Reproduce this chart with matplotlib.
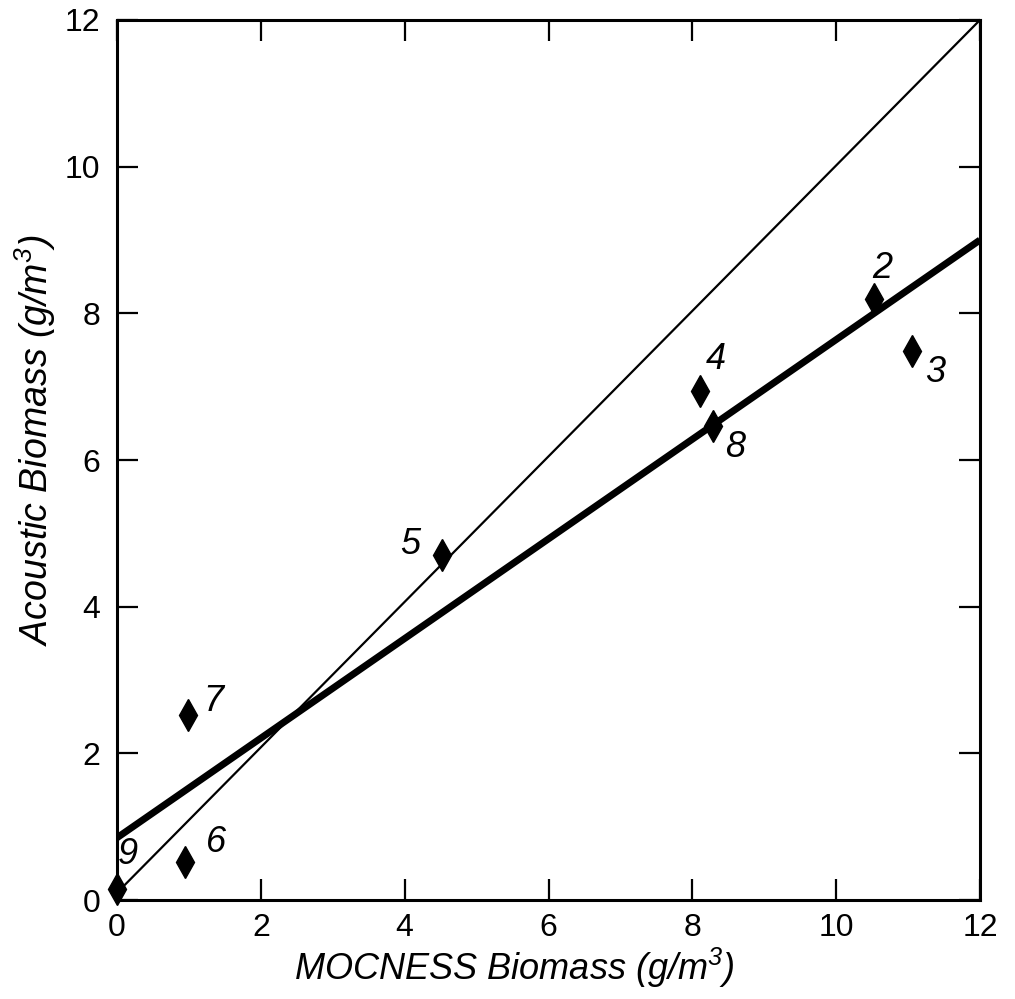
import matplotlib
matplotlib.use("Agg")
import matplotlib.pyplot as plt

plt.rcParams["font.family"] = ["Liberation Sans", "DejaVu Sans"]
plt.rcParams["mathtext.fontset"] = "custom"
plt.rcParams["mathtext.rm"] = "Liberation Sans:italic"
plt.rcParams["mathtext.it"] = "Liberation Sans:italic"

# station samples: MOCNESS vs acoustic biomass (g/m^3)
station_ids = ["2", "3", "4", "5", "6", "7", "8", "9"]
mocness = [10.52, 11.05, 8.1, 4.52, 0.95, 0.99, 8.29, 0.0]
acoustic = [8.2, 7.48, 6.94, 4.7, 0.52, 2.52, 6.47, 0.15]
# label offsets in points, relative to each marker
label_dx = [6, 17, 12, -23, 22, 18, 16, 8]
label_dy = [22, -15, 23, 8, 14, 10, -16, 25]

# 1:1 reference line and regression line (endpoints at x = 0 and x = 12)
line_x = [0, 12]
one_to_one_y = [0.1, 12.0]
regression_y = [0.85, 9.0]

axis_ticks = [0, 2, 4, 6, 8, 10, 12]

fig = plt.figure(figsize=(10.15, 9.99), dpi=100)
ax = fig.add_axes([0.1153, 0.099, 0.8502, 0.881])

ax.plot(line_x, one_to_one_y, color="black", linewidth=1.6, solid_capstyle="butt")
ax.plot(line_x, regression_y, color="black", linewidth=5.0, solid_capstyle="butt")
ax.plot(mocness, acoustic, linestyle="none", marker="d", markersize=16,
        markerfacecolor="black", markeredgecolor="black", markeredgewidth=1,
        clip_on=False, zorder=5)

for sid, x, y, dx, dy in zip(station_ids, mocness, acoustic, label_dx, label_dy):
    ax.annotate(sid, (x, y), xytext=(dx, dy), textcoords="offset points",
                ha="center", va="center", fontsize=26, fontstyle="italic")

ax.set_xlim(0, 12)
ax.set_ylim(0, 12)
ax.set_xticks(axis_ticks)
ax.set_yticks(axis_ticks)
ax.tick_params(direction="in", length=15, width=1.6, labelsize=23,
               top=True, right=True, pad=9)
ax.tick_params(axis="y", pad=12)
for spine in ax.spines.values():
    spine.set_linewidth(2.2)

ax.set_xlabel("MOCNESS Biomass (g/m$^3$)", fontsize=26, fontstyle="italic")
ax.xaxis.set_label_coords(0.46, -0.052)
ax.set_ylabel("Acoustic Biomass (g/m$^3$)", fontsize=27, fontstyle="italic")
ax.yaxis.set_label_coords(-0.068, 0.522)

fig.savefig("out.png", dpi=100)
